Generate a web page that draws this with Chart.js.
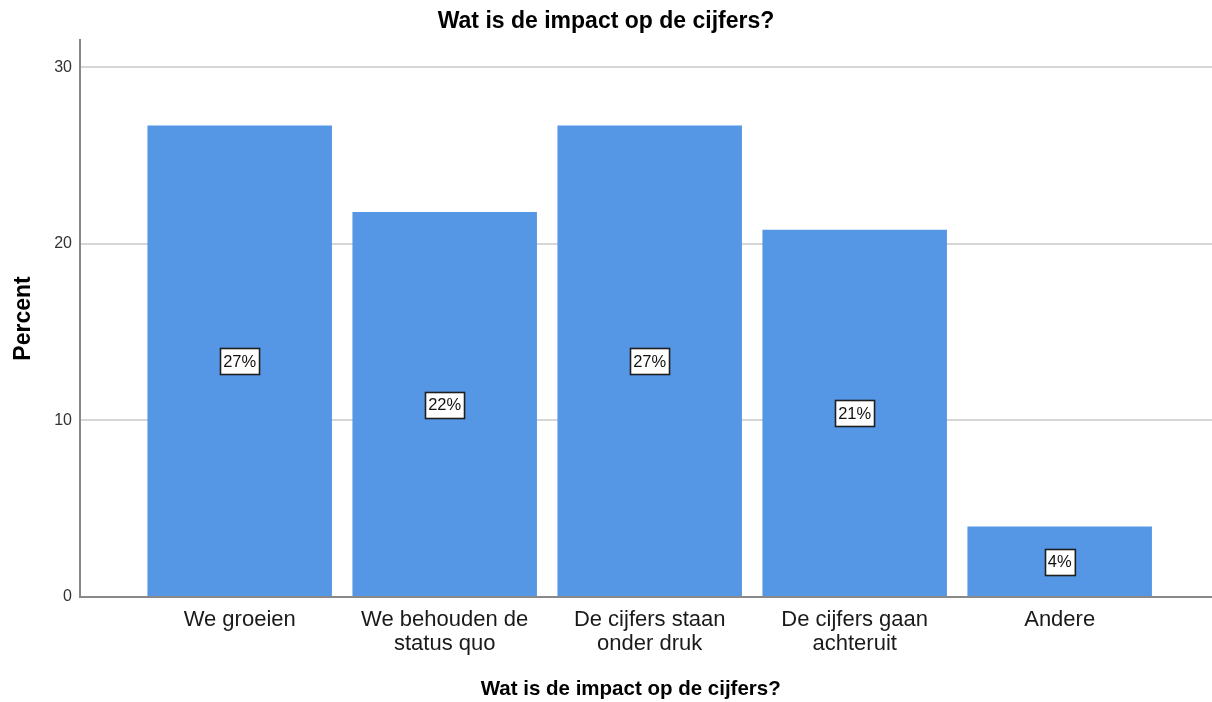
<!DOCTYPE html>
<html>
<head>
<meta charset="utf-8">
<script src="https://cdn.jsdelivr.net/npm/chart.js@4.4.1/dist/chart.umd.min.js"></script>
<style>
  html, body { margin: 0; padding: 0; background: #ffffff; }
  #wrap { width: 1212px; height: 702px; }
</style>
</head>
<body>
<div id="wrap"><canvas id="c" width="1212" height="702"></canvas></div>
<script>
// Survey answers and their share of respondents (%)
const categories = [
  ['We groeien'],
  ['We behouden de', 'status quo'],
  ['De cijfers staan', 'onder druk'],
  ['De cijfers gaan', 'achteruit'],
  ['Andere']
];
const percentValues = [26.7, 21.8, 26.7, 20.8, 4.0];
const yTickValues = [0, 10, 20, 30];

const chartTitle = 'Wat is de impact op de cijfers?';
const xAxisTitle = 'Wat is de impact op de cijfers?';
const yAxisTitle = 'Percent';

const FONT = '"Liberation Sans", Arial, Helvetica, sans-serif';
const BAR_COLOR = '#5596e5';

// Category bars sit on a linear x scale so the plot area can start left of the first bar
const points = percentValues.map((v, i) => ({ x: i, y: v }));

// Boxed percentage label at the middle of each bar
const valueBoxes = {
  id: 'valueBoxes',
  afterDatasetsDraw(chart) {
    const ctx = chart.ctx;
    const yScale = chart.scales.y;
    const meta = chart.getDatasetMeta(0);
    ctx.save();
    ctx.font = '16.5px ' + FONT;
    ctx.textAlign = 'center';
    ctx.textBaseline = 'middle';
    meta.data.forEach((bar, i) => {
      const v = percentValues[i];
      const text = Math.round(v) + '%';
      const cx = bar.x;
      const cy = yScale.getPixelForValue(v / 2);
      const w = ctx.measureText(text).width + 6;
      const h = 26;
      const x0 = Math.round(cx - w / 2) + 0.5;
      const y0 = Math.round(cy - h / 2) + 0.5;
      ctx.fillStyle = '#ffffff';
      ctx.fillRect(x0, y0, w, h);
      ctx.strokeStyle = '#1e1e1e';
      ctx.lineWidth = 1.6;
      ctx.strokeRect(x0, y0, w, h);
      ctx.fillStyle = '#111111';
      ctx.fillText(text, cx, cy + 1);
    });
    ctx.restore();
  }
};

// Horizontal axis title, placed a little left of the plot centre
const xTitle = {
  id: 'xTitle',
  afterDraw(chart) {
    const ctx = chart.ctx;
    const area = chart.chartArea;
    ctx.save();
    ctx.font = 'bold 20.5px ' + FONT;
    ctx.fillStyle = '#000000';
    ctx.textAlign = 'center';
    ctx.textBaseline = 'middle';
    ctx.fillText(xAxisTitle, area.left + (area.right - area.left) * 0.4865, chart.height - 13);
    ctx.restore();
  }
};

new Chart(document.getElementById('c'), {
  type: 'bar',
  data: {
    datasets: [{
      data: points,
      backgroundColor: BAR_COLOR,
      borderWidth: 0,
      barPercentage: 0.9,
      categoryPercentage: 1.0
    }]
  },
  options: {
    responsive: false,
    animation: false,
    devicePixelRatio: 1,
    layout: { padding: { left: 0, right: 0, top: 0, bottom: 0 } },
    plugins: {
      legend: { display: false },
      tooltip: { enabled: false },
      title: {
        display: true,
        text: chartTitle,
        color: '#000000',
        font: { family: FONT, size: 23, weight: 'bold', lineHeight: 1.2 },
        padding: { top: 8, bottom: 4.4 }
      }
    },
    scales: {
      x: {
        type: 'linear',
        min: -0.779,
        max: 4.743,
        offset: false,
        grid: { display: false, drawTicks: false },
        border: { display: true, color: '#888888', width: 2 },
        afterBuildTicks(scale) {
          scale.ticks = categories.map((_, i) => ({ value: i }));
        },
        afterFit(scale) { scale.height = 105; },
        ticks: {
          autoSkip: false,
          maxRotation: 0,
          minRotation: 0,
          padding: 11,
          color: '#1a1a1a',
          font: { family: FONT, size: 22, lineHeight: 1.08 },
          callback: (value) => categories[value] || ''
        },
        title: { display: false }
      },
      y: {
        min: 0,
        max: 31.547,
        grid: { color: '#d6d6d6', lineWidth: 2, drawTicks: false },
        border: { display: true, color: '#888888', width: 2 },
        afterBuildTicks(scale) {
          scale.ticks = yTickValues.map(v => ({ value: v }));
        },
        afterFit(scale) { scale.width = 80; },
        ticks: {
          padding: 8,
          color: '#333333',
          font: { family: FONT, size: 16 }
        },
        title: {
          display: true,
          text: yAxisTitle,
          color: '#000000',
          font: { family: FONT, size: 23, weight: 'bold', lineHeight: 1.2 },
          padding: { top: 10, bottom: 0 }
        }
      }
    }
  },
  plugins: [valueBoxes, xTitle]
});
</script>
</body>
</html>
